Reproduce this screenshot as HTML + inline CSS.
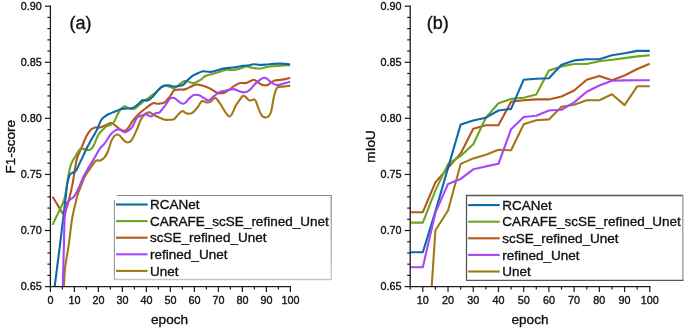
<!DOCTYPE html>
<html><head><meta charset="utf-8"><title>chart</title>
<style>
html,body{margin:0;padding:0;background:#fff;}
svg{display:block;will-change:transform;}
text{font-family:"Liberation Sans",sans-serif;fill:#111;stroke:#111;stroke-width:0.35px;stroke-linejoin:round;}
</style></head><body>
<svg width="685" height="332" viewBox="0 0 685 332">
<rect width="685" height="332" fill="#fff"/>
<linearGradient id="gr" x1="0" y1="195" x2="0" y2="280" gradientUnits="userSpaceOnUse"><stop offset="0" stop-color="#8f8f8f"/><stop offset="1" stop-color="#c6c6c6"/></linearGradient>
<clipPath id="cl"><rect x="50.4" y="0" width="245" height="286.6"/></clipPath>
<clipPath id="cr"><rect x="410.2" y="0" width="245" height="286.6"/></clipPath>
<g clip-path="url(#cl)" fill="none" stroke-linejoin="round" stroke-linecap="butt">
<path d="M62.80 300.60 C63.03 297.27 63.80 286.23 64.20 280.60 C64.60 274.97 64.47 272.63 65.20 266.80 C65.93 260.97 67.43 253.72 68.60 245.60 C69.77 237.48 70.95 225.57 72.20 218.10 C73.45 210.63 75.17 204.80 76.10 200.80 C77.03 196.80 77.08 196.30 77.80 194.10 C78.52 191.90 79.20 190.58 80.40 187.60 C81.60 184.62 83.33 179.43 85.00 176.20 C86.67 172.97 88.62 170.75 90.40 168.20 C92.18 165.65 94.05 162.18 95.70 160.90 C97.35 159.62 98.87 161.05 100.30 160.50 C101.73 159.95 103.07 159.02 104.30 157.60 C105.53 156.18 106.47 154.92 107.70 152.00 C108.93 149.08 110.37 142.97 111.70 140.10 C113.03 137.23 114.38 135.57 115.70 134.80 C117.02 134.03 118.28 134.62 119.60 135.50 C120.92 136.38 122.27 138.93 123.60 140.10 C124.93 141.27 126.27 142.50 127.60 142.50 C128.93 142.50 130.05 142.27 131.60 140.10 C133.15 137.93 135.32 133.00 136.90 129.50 C138.48 126.00 139.73 121.72 141.10 119.10 C142.47 116.48 143.67 114.92 145.10 113.80 C146.53 112.68 148.17 112.15 149.70 112.40 C151.23 112.65 152.65 114.42 154.30 115.30 C155.95 116.18 157.83 116.97 159.60 117.70 C161.37 118.43 163.13 119.37 164.90 119.70 C166.67 120.03 168.65 119.80 170.20 119.70 C171.75 119.60 172.87 119.98 174.20 119.10 C175.53 118.22 176.82 115.73 178.20 114.40 C179.58 113.07 181.10 111.27 182.50 111.10 C183.90 110.93 185.03 113.07 186.60 113.40 C188.17 113.73 190.13 114.03 191.90 113.10 C193.67 112.17 195.53 109.78 197.20 107.80 C198.87 105.82 200.35 102.08 201.90 101.20 C203.45 100.32 205.07 102.38 206.50 102.50 C207.93 102.62 209.07 102.67 210.50 101.90 C211.93 101.13 213.55 97.68 215.10 97.90 C216.65 98.12 218.13 100.88 219.80 103.20 C221.47 105.52 223.57 109.60 225.10 111.80 C226.63 114.00 227.90 115.95 229.00 116.40 C230.10 116.85 230.58 116.27 231.70 114.50 C232.82 112.73 234.43 108.13 235.70 105.80 C236.97 103.47 238.15 102.10 239.30 100.50 C240.45 98.90 241.62 96.87 242.60 96.20 C243.58 95.53 244.20 95.90 245.20 96.50 C246.20 97.10 247.60 99.13 248.60 99.80 C249.60 100.47 250.32 100.57 251.20 100.50 C252.08 100.43 253.13 99.30 253.90 99.40 C254.67 99.50 255.03 99.60 255.80 101.10 C256.57 102.60 257.50 105.97 258.50 108.40 C259.50 110.83 260.70 114.20 261.80 115.70 C262.90 117.20 264.00 117.25 265.10 117.40 C266.20 117.55 267.40 117.55 268.40 116.60 C269.40 115.65 270.22 114.83 271.10 111.70 C271.98 108.57 272.93 101.33 273.70 97.80 C274.47 94.27 275.03 92.27 275.70 90.50 C276.37 88.73 276.48 87.85 277.70 87.20 C278.92 86.55 280.90 86.87 283.00 86.60 C285.10 86.33 289.08 85.77 290.30 85.60" stroke="#a27816" stroke-width="2.1"/>
<path d="M52.60 196.70 C53.50 198.18 56.17 202.72 58.00 205.60 C59.83 208.48 62.22 213.50 63.60 214.00 C64.98 214.50 65.48 210.67 66.30 208.60 C67.12 206.53 67.47 205.68 68.50 201.60 C69.53 197.52 71.40 189.67 72.50 184.10 C73.60 178.53 74.32 172.62 75.10 168.20 C75.88 163.78 75.97 161.40 77.20 157.60 C78.43 153.80 80.95 148.98 82.50 145.40 C84.05 141.82 85.07 138.75 86.50 136.10 C87.93 133.45 89.67 130.93 91.10 129.50 C92.53 128.07 93.65 127.83 95.10 127.50 C96.55 127.17 98.13 127.83 99.80 127.50 C101.47 127.17 103.30 126.25 105.10 125.50 C106.90 124.75 109.02 123.08 110.60 123.00 C112.18 122.92 112.98 123.92 114.60 125.00 C116.22 126.08 118.58 128.53 120.30 129.50 C122.02 130.47 123.47 131.23 124.90 130.80 C126.33 130.37 127.53 128.63 128.90 126.90 C130.27 125.17 131.28 122.70 133.10 120.40 C134.92 118.10 137.58 115.20 139.80 113.10 C142.02 111.00 144.20 109.45 146.40 107.80 C148.60 106.15 151.02 103.87 153.00 103.20 C154.98 102.53 156.37 103.95 158.30 103.80 C160.23 103.65 162.62 103.57 164.60 102.30 C166.58 101.03 168.67 98.15 170.20 96.20 C171.73 94.25 172.42 91.70 173.80 90.60 C175.18 89.50 176.70 89.80 178.50 89.60 C180.30 89.40 182.70 89.82 184.60 89.40 C186.50 88.98 187.92 87.92 189.90 87.10 C191.88 86.28 194.30 84.72 196.50 84.50 C198.70 84.28 200.88 85.15 203.10 85.80 C205.32 86.45 207.58 87.30 209.80 88.40 C212.02 89.50 214.20 91.62 216.40 92.40 C218.60 93.18 221.02 93.43 223.00 93.10 C224.98 92.77 226.53 91.52 228.30 90.40 C230.07 89.28 231.62 87.62 233.60 86.40 C235.58 85.18 238.25 83.65 240.20 83.10 C242.15 82.55 243.57 83.43 245.30 83.10 C247.03 82.77 249.17 81.65 250.60 81.10 C252.03 80.55 252.80 79.70 253.90 79.80 C255.00 79.90 255.98 80.93 257.20 81.70 C258.42 82.47 259.65 83.80 261.20 84.40 C262.75 85.00 264.95 85.52 266.50 85.30 C268.05 85.08 269.17 83.92 270.50 83.10 C271.83 82.28 272.95 80.92 274.50 80.40 C276.05 79.88 278.03 80.22 279.80 80.00 C281.57 79.78 283.38 79.47 285.10 79.10 C286.82 78.73 289.27 78.02 290.10 77.80" stroke="#b5561a" stroke-width="2.1"/>
<path d="M52.60 224.80 C53.27 223.37 55.40 218.70 56.60 216.20 C57.80 213.70 58.47 212.80 59.80 209.80 C61.13 206.80 63.15 204.03 64.60 198.20 C66.05 192.37 67.42 180.47 68.50 174.80 C69.58 169.13 70.08 167.07 71.10 164.20 C72.12 161.33 73.13 160.07 74.60 157.60 C76.07 155.13 78.25 150.82 79.90 149.40 C81.55 147.98 82.95 149.00 84.50 149.10 C86.05 149.20 87.77 150.40 89.20 150.00 C90.63 149.60 91.57 149.23 93.10 146.70 C94.63 144.17 96.63 137.78 98.40 134.80 C100.17 131.82 102.33 130.22 103.70 128.80 C105.07 127.38 105.00 127.27 106.60 126.30 C108.20 125.33 111.30 125.32 113.30 123.00 C115.30 120.68 116.83 115.15 118.60 112.40 C120.37 109.65 122.13 107.20 123.90 106.50 C125.67 105.80 127.43 107.83 129.20 108.20 C130.97 108.57 132.73 109.32 134.50 108.70 C136.27 108.08 138.03 105.92 139.80 104.50 C141.57 103.08 143.33 101.53 145.10 100.20 C146.87 98.87 148.63 97.77 150.40 96.50 C152.17 95.23 153.93 94.13 155.70 92.60 C157.47 91.07 159.23 88.42 161.00 87.30 C162.77 86.18 164.53 85.87 166.30 85.90 C168.07 85.93 170.32 87.08 171.60 87.50 C172.88 87.92 172.72 88.90 174.00 88.40 C175.28 87.90 177.53 85.72 179.30 84.50 C181.07 83.28 183.05 81.55 184.60 81.10 C186.15 80.65 187.05 81.47 188.60 81.80 C190.15 82.13 191.92 83.43 193.90 83.10 C195.88 82.77 198.52 81.02 200.50 79.80 C202.48 78.58 203.82 76.78 205.80 75.80 C207.78 74.82 210.20 74.55 212.40 73.90 C214.60 73.25 216.78 72.57 219.00 71.90 C221.22 71.23 223.27 70.23 225.70 69.90 C228.13 69.57 231.18 70.12 233.60 69.90 C236.02 69.68 238.03 69.17 240.20 68.60 C242.37 68.03 244.65 66.63 246.60 66.50 C248.55 66.37 250.13 67.47 251.90 67.80 C253.67 68.13 255.43 68.43 257.20 68.50 C258.97 68.57 260.73 68.48 262.50 68.20 C264.27 67.92 265.80 67.13 267.80 66.80 C269.80 66.47 272.28 66.37 274.50 66.20 C276.72 66.03 279.12 65.97 281.10 65.80 C283.08 65.63 284.90 65.30 286.40 65.20 C287.90 65.10 289.48 65.20 290.10 65.20" stroke="#6fa51e" stroke-width="2.1"/>
<path d="M52.70 301.60 C53.02 299.17 53.40 296.33 54.60 287.00 C55.80 277.67 58.13 259.83 59.90 245.60 C61.67 231.37 63.98 211.85 65.20 201.60 C66.42 191.35 66.43 188.57 67.20 184.10 C67.97 179.63 68.92 176.68 69.80 174.80 C70.68 172.92 71.50 173.45 72.50 172.80 C73.50 172.15 74.58 172.55 75.80 170.90 C77.02 169.25 78.70 165.12 79.80 162.90 C80.90 160.68 81.28 159.97 82.40 157.60 C83.52 155.23 84.93 151.83 86.50 148.70 C88.07 145.57 90.03 142.00 91.80 138.80 C93.57 135.60 95.55 132.60 97.10 129.50 C98.65 126.40 99.77 122.40 101.10 120.20 C102.43 118.00 103.73 117.37 105.10 116.30 C106.47 115.23 107.72 114.55 109.30 113.80 C110.88 113.05 112.62 112.58 114.60 111.80 C116.58 111.02 119.22 109.65 121.20 109.10 C123.18 108.55 124.73 108.65 126.50 108.50 C128.27 108.35 130.03 108.77 131.80 108.20 C133.57 107.63 135.33 106.43 137.10 105.10 C138.87 103.77 140.63 100.97 142.40 100.20 C144.17 99.43 145.93 101.12 147.70 100.50 C149.47 99.88 151.23 98.27 153.00 96.50 C154.77 94.73 156.53 91.70 158.30 89.90 C160.07 88.10 161.83 86.47 163.60 85.70 C165.37 84.93 167.13 85.15 168.90 85.30 C170.67 85.45 172.43 86.50 174.20 86.60 C175.97 86.70 177.95 86.23 179.50 85.90 C181.05 85.57 182.22 85.50 183.50 84.60 C184.78 83.70 185.70 81.97 187.20 80.50 C188.70 79.03 190.73 77.02 192.50 75.80 C194.27 74.58 196.03 73.97 197.80 73.20 C199.57 72.43 201.10 71.42 203.10 71.20 C205.10 70.98 207.58 72.02 209.80 71.90 C212.02 71.78 214.20 71.05 216.40 70.50 C218.60 69.95 220.80 69.03 223.00 68.60 C225.20 68.17 227.38 68.17 229.60 67.90 C231.82 67.63 234.08 67.33 236.30 67.00 C238.52 66.67 240.70 66.20 242.90 65.90 C245.10 65.60 247.77 65.47 249.50 65.20 C251.23 64.93 251.57 64.35 253.30 64.30 C255.03 64.25 257.70 64.87 259.90 64.90 C262.10 64.93 264.30 64.67 266.50 64.50 C268.70 64.33 270.88 64.05 273.10 63.90 C275.32 63.75 277.80 63.60 279.80 63.60 C281.80 63.60 283.38 63.75 285.10 63.90 C286.82 64.05 289.27 64.40 290.10 64.50" stroke="#0c6aab" stroke-width="2.1"/>
<path d="M62.60 300.60 C62.63 298.33 62.58 296.17 62.80 287.00 C63.02 277.83 63.62 256.52 63.90 245.60 C64.18 234.68 64.27 227.00 64.50 221.50 C64.73 216.00 64.95 215.52 65.30 212.60 C65.65 209.68 65.77 206.18 66.60 204.00 C67.43 201.82 69.07 200.73 70.30 199.50 C71.53 198.27 72.63 198.43 74.00 196.60 C75.37 194.77 76.88 191.90 78.50 188.50 C80.12 185.10 81.95 179.80 83.70 176.20 C85.45 172.60 87.23 169.88 89.00 166.90 C90.77 163.92 92.50 161.33 94.30 158.30 C96.10 155.27 98.00 151.28 99.80 148.70 C101.60 146.12 103.33 145.12 105.10 142.80 C106.87 140.48 108.63 136.90 110.40 134.80 C112.17 132.70 114.17 131.08 115.70 130.20 C117.23 129.32 118.07 129.17 119.60 129.50 C121.13 129.83 123.35 132.08 124.90 132.20 C126.45 132.32 127.63 131.13 128.90 130.20 C130.17 129.27 131.13 128.70 132.50 126.60 C133.87 124.50 135.45 119.48 137.10 117.60 C138.75 115.72 140.85 115.83 142.40 115.30 C143.95 114.77 144.97 114.22 146.40 114.40 C147.83 114.58 149.45 116.62 151.00 116.40 C152.55 116.18 154.27 113.77 155.70 113.10 C157.13 112.43 158.07 113.62 159.60 112.40 C161.13 111.18 163.13 108.12 164.90 105.80 C166.67 103.48 168.65 99.78 170.20 98.50 C171.75 97.22 172.90 97.72 174.20 98.10 C175.50 98.48 176.93 100.00 178.00 100.80 C179.07 101.60 179.72 102.40 180.60 102.90 C181.48 103.40 182.40 103.92 183.30 103.80 C184.20 103.68 185.12 103.00 186.00 102.20 C186.88 101.40 187.28 100.18 188.60 99.00 C189.92 97.82 192.13 95.72 193.90 95.10 C195.67 94.48 197.43 94.75 199.20 95.30 C200.97 95.85 202.97 97.55 204.50 98.40 C206.03 99.25 206.87 100.73 208.40 100.40 C209.93 100.07 211.70 97.85 213.70 96.40 C215.70 94.95 218.18 92.70 220.40 91.70 C222.62 90.70 224.80 90.83 227.00 90.40 C229.20 89.97 231.62 88.98 233.60 89.10 C235.58 89.22 237.13 90.55 238.90 91.10 C240.67 91.65 242.47 92.52 244.20 92.40 C245.93 92.28 247.57 91.73 249.30 90.40 C251.03 89.07 252.83 86.17 254.60 84.40 C256.37 82.63 258.35 80.90 259.90 79.80 C261.45 78.70 262.80 78.03 263.90 77.80 C265.00 77.57 265.40 77.75 266.50 78.40 C267.60 79.05 269.17 80.70 270.50 81.70 C271.83 82.70 273.18 83.83 274.50 84.40 C275.82 84.97 276.87 85.25 278.40 85.10 C279.93 84.95 281.75 84.07 283.70 83.50 C285.65 82.93 289.03 82.00 290.10 81.70" stroke="#a746f5" stroke-width="2.1"/>
</g>
<line x1="50.4" y1="5.6000000000000005" x2="50.4" y2="287.20000000000005" stroke="#1c1c1c" stroke-width="1.3"/>
<line x1="49.8" y1="286.6" x2="291.0" y2="286.6" stroke="#1c1c1c" stroke-width="1.3"/>
<line x1="44.9" y1="6.20" x2="50.4" y2="6.20" stroke="#1c1c1c" stroke-width="1.2"/>
<text x="41.8" y="9.90" text-anchor="end" font-size="10.8">0.90</text>
<line x1="47.4" y1="17.42" x2="50.4" y2="17.42" stroke="#1c1c1c" stroke-width="1.2"/>
<line x1="47.4" y1="28.63" x2="50.4" y2="28.63" stroke="#1c1c1c" stroke-width="1.2"/>
<line x1="47.4" y1="39.85" x2="50.4" y2="39.85" stroke="#1c1c1c" stroke-width="1.2"/>
<line x1="47.4" y1="51.06" x2="50.4" y2="51.06" stroke="#1c1c1c" stroke-width="1.2"/>
<line x1="44.9" y1="62.28" x2="50.4" y2="62.28" stroke="#1c1c1c" stroke-width="1.2"/>
<text x="41.8" y="65.98" text-anchor="end" font-size="10.8">0.85</text>
<line x1="47.4" y1="73.50" x2="50.4" y2="73.50" stroke="#1c1c1c" stroke-width="1.2"/>
<line x1="47.4" y1="84.71" x2="50.4" y2="84.71" stroke="#1c1c1c" stroke-width="1.2"/>
<line x1="47.4" y1="95.93" x2="50.4" y2="95.93" stroke="#1c1c1c" stroke-width="1.2"/>
<line x1="47.4" y1="107.14" x2="50.4" y2="107.14" stroke="#1c1c1c" stroke-width="1.2"/>
<line x1="44.9" y1="118.36" x2="50.4" y2="118.36" stroke="#1c1c1c" stroke-width="1.2"/>
<text x="41.8" y="122.06" text-anchor="end" font-size="10.8">0.80</text>
<line x1="47.4" y1="129.58" x2="50.4" y2="129.58" stroke="#1c1c1c" stroke-width="1.2"/>
<line x1="47.4" y1="140.79" x2="50.4" y2="140.79" stroke="#1c1c1c" stroke-width="1.2"/>
<line x1="47.4" y1="152.01" x2="50.4" y2="152.01" stroke="#1c1c1c" stroke-width="1.2"/>
<line x1="47.4" y1="163.22" x2="50.4" y2="163.22" stroke="#1c1c1c" stroke-width="1.2"/>
<line x1="44.9" y1="174.44" x2="50.4" y2="174.44" stroke="#1c1c1c" stroke-width="1.2"/>
<text x="41.8" y="178.14" text-anchor="end" font-size="10.8">0.75</text>
<line x1="47.4" y1="185.66" x2="50.4" y2="185.66" stroke="#1c1c1c" stroke-width="1.2"/>
<line x1="47.4" y1="196.87" x2="50.4" y2="196.87" stroke="#1c1c1c" stroke-width="1.2"/>
<line x1="47.4" y1="208.09" x2="50.4" y2="208.09" stroke="#1c1c1c" stroke-width="1.2"/>
<line x1="47.4" y1="219.30" x2="50.4" y2="219.30" stroke="#1c1c1c" stroke-width="1.2"/>
<line x1="44.9" y1="230.52" x2="50.4" y2="230.52" stroke="#1c1c1c" stroke-width="1.2"/>
<text x="41.8" y="234.22" text-anchor="end" font-size="10.8">0.70</text>
<line x1="47.4" y1="241.74" x2="50.4" y2="241.74" stroke="#1c1c1c" stroke-width="1.2"/>
<line x1="47.4" y1="252.95" x2="50.4" y2="252.95" stroke="#1c1c1c" stroke-width="1.2"/>
<line x1="47.4" y1="264.17" x2="50.4" y2="264.17" stroke="#1c1c1c" stroke-width="1.2"/>
<line x1="47.4" y1="275.38" x2="50.4" y2="275.38" stroke="#1c1c1c" stroke-width="1.2"/>
<line x1="44.9" y1="286.60" x2="50.4" y2="286.60" stroke="#1c1c1c" stroke-width="1.2"/>
<text x="41.8" y="290.30" text-anchor="end" font-size="10.8">0.65</text>
<line x1="50.40" y1="286.6" x2="50.40" y2="292.1" stroke="#1c1c1c" stroke-width="1.2"/>
<line x1="74.40" y1="286.6" x2="74.40" y2="292.1" stroke="#1c1c1c" stroke-width="1.2"/>
<line x1="98.40" y1="286.6" x2="98.40" y2="292.1" stroke="#1c1c1c" stroke-width="1.2"/>
<line x1="122.40" y1="286.6" x2="122.40" y2="292.1" stroke="#1c1c1c" stroke-width="1.2"/>
<line x1="146.40" y1="286.6" x2="146.40" y2="292.1" stroke="#1c1c1c" stroke-width="1.2"/>
<line x1="170.40" y1="286.6" x2="170.40" y2="292.1" stroke="#1c1c1c" stroke-width="1.2"/>
<line x1="194.40" y1="286.6" x2="194.40" y2="292.1" stroke="#1c1c1c" stroke-width="1.2"/>
<line x1="218.40" y1="286.6" x2="218.40" y2="292.1" stroke="#1c1c1c" stroke-width="1.2"/>
<line x1="242.40" y1="286.6" x2="242.40" y2="292.1" stroke="#1c1c1c" stroke-width="1.2"/>
<line x1="266.40" y1="286.6" x2="266.40" y2="292.1" stroke="#1c1c1c" stroke-width="1.2"/>
<line x1="290.40" y1="286.6" x2="290.40" y2="292.1" stroke="#1c1c1c" stroke-width="1.2"/>
<line x1="62.40" y1="286.6" x2="62.40" y2="289.6" stroke="#1c1c1c" stroke-width="1.2"/>
<line x1="86.40" y1="286.6" x2="86.40" y2="289.6" stroke="#1c1c1c" stroke-width="1.2"/>
<line x1="110.40" y1="286.6" x2="110.40" y2="289.6" stroke="#1c1c1c" stroke-width="1.2"/>
<line x1="134.40" y1="286.6" x2="134.40" y2="289.6" stroke="#1c1c1c" stroke-width="1.2"/>
<line x1="158.40" y1="286.6" x2="158.40" y2="289.6" stroke="#1c1c1c" stroke-width="1.2"/>
<line x1="182.40" y1="286.6" x2="182.40" y2="289.6" stroke="#1c1c1c" stroke-width="1.2"/>
<line x1="206.40" y1="286.6" x2="206.40" y2="289.6" stroke="#1c1c1c" stroke-width="1.2"/>
<line x1="230.40" y1="286.6" x2="230.40" y2="289.6" stroke="#1c1c1c" stroke-width="1.2"/>
<line x1="254.40" y1="286.6" x2="254.40" y2="289.6" stroke="#1c1c1c" stroke-width="1.2"/>
<line x1="278.40" y1="286.6" x2="278.40" y2="289.6" stroke="#1c1c1c" stroke-width="1.2"/>
<text x="50.40" y="303.5" text-anchor="middle" font-size="10.8">0</text>
<text x="74.40" y="303.5" text-anchor="middle" font-size="10.8">10</text>
<text x="98.40" y="303.5" text-anchor="middle" font-size="10.8">20</text>
<text x="122.40" y="303.5" text-anchor="middle" font-size="10.8">30</text>
<text x="146.40" y="303.5" text-anchor="middle" font-size="10.8">40</text>
<text x="170.40" y="303.5" text-anchor="middle" font-size="10.8">50</text>
<text x="194.40" y="303.5" text-anchor="middle" font-size="10.8">60</text>
<text x="218.40" y="303.5" text-anchor="middle" font-size="10.8">70</text>
<text x="242.40" y="303.5" text-anchor="middle" font-size="10.8">80</text>
<text x="266.40" y="303.5" text-anchor="middle" font-size="10.8">90</text>
<text x="290.40" y="303.5" text-anchor="middle" font-size="10.8">100</text>
<rect x="114.4" y="195.5" width="216.79999999999998" height="84.0" fill="#fff"/>
<line x1="117.0" y1="195.5" x2="331.7" y2="195.5" stroke="#8a8a8a" stroke-width="1.1"/>
<line x1="114.4" y1="200.1" x2="114.4" y2="280.0" stroke="#999" stroke-width="1.1"/>
<line x1="331.2" y1="195.5" x2="331.2" y2="280.1" stroke="url(#gr)" stroke-width="1.3"/>
<line x1="114.4" y1="279.5" x2="331.8" y2="279.5" stroke="#c6c6c6" stroke-width="1.3"/>
<line x1="116.0" y1="204.50" x2="147.60000000000002" y2="204.50" stroke="#0c6aab" stroke-width="2.1"/>
<text x="150.10000000000002" y="209.10" font-size="13.5">RCANet</text>
<line x1="116.0" y1="221.10" x2="147.60000000000002" y2="221.10" stroke="#6fa51e" stroke-width="2.1"/>
<text x="150.10000000000002" y="225.70" font-size="13.5">CARAFE_scSE_refined_Unet</text>
<line x1="116.0" y1="237.70" x2="147.60000000000002" y2="237.70" stroke="#b5561a" stroke-width="2.1"/>
<text x="150.10000000000002" y="242.30" font-size="13.5">scSE_refined_Unet</text>
<line x1="116.0" y1="254.30" x2="147.60000000000002" y2="254.30" stroke="#a746f5" stroke-width="2.1"/>
<text x="150.10000000000002" y="258.90" font-size="13.5">refined_Unet</text>
<line x1="116.0" y1="270.90" x2="147.60000000000002" y2="270.90" stroke="#a27816" stroke-width="2.1"/>
<text x="150.10000000000002" y="275.50" font-size="13.5">Unet</text>
<text x="69.6" y="29.4" font-size="18">(a)</text>
<text transform="translate(15.3,146.7) rotate(-90)" text-anchor="middle" font-size="13.6">F1-score</text>
<text x="169.6" y="323.6" text-anchor="middle" font-size="13.6">epoch</text>
<g clip-path="url(#cr)" fill="none" stroke-linejoin="round" stroke-linecap="butt">
<path d="M410.20 420.40 L422.81 420.40 L435.42 230.30 L448.03 210.50 L460.64 163.90 L473.25 158.40 L485.86 154.70 L498.47 149.80 L511.08 150.30 L523.69 124.30 L536.30 120.20 L548.91 119.40 L561.52 106.70 L574.13 104.80 L586.74 100.20 L599.35 100.20 L611.96 94.20 L624.57 105.10 L637.18 86.30 L649.79 86.30" stroke="#a27816" stroke-width="2.1"/>
<path d="M410.20 212.20 L422.81 212.20 L435.42 182.40 L448.03 167.90 L460.64 153.50 L473.25 128.80 L485.86 125.20 L498.47 125.20 L511.08 101.70 L523.69 100.20 L536.30 99.40 L548.91 99.40 L561.52 96.50 L574.13 90.50 L586.74 79.70 L599.35 75.90 L611.96 80.20 L624.57 75.50 L637.18 69.00 L649.79 63.70" stroke="#b5561a" stroke-width="2.1"/>
<path d="M410.20 222.60 L422.81 222.60 L435.42 190.40 L448.03 164.10 L460.64 156.00 L473.25 144.20 L485.86 117.70 L498.47 103.30 L511.08 98.90 L523.69 97.70 L536.30 94.60 L548.91 70.50 L561.52 66.40 L574.13 64.00 L586.74 64.00 L599.35 61.20 L611.96 59.80 L624.57 58.10 L637.18 56.40 L649.79 55.20" stroke="#6fa51e" stroke-width="2.1"/>
<path d="M410.20 252.20 L422.81 252.20 L435.42 211.40 L448.03 167.90 L460.64 124.50 L473.25 120.60 L485.86 117.70 L498.47 110.50 L511.08 108.90 L523.69 79.70 L536.30 78.70 L548.91 78.20 L561.52 64.70 L574.13 60.40 L586.74 59.30 L599.35 59.30 L611.96 55.20 L624.57 53.30 L637.18 50.90 L649.79 50.90" stroke="#0c6aab" stroke-width="2.1"/>
<path d="M410.20 267.20 L422.81 267.20 L435.42 212.70 L448.03 183.90 L460.64 178.90 L473.25 169.30 L485.86 166.40 L498.47 163.80 L511.08 129.20 L523.69 117.00 L536.30 115.80 L548.91 110.50 L561.52 109.80 L574.13 102.40 L586.74 91.70 L599.35 85.50 L611.96 80.70 L624.57 80.40 L637.18 80.30 L649.79 80.30" stroke="#a746f5" stroke-width="2.1"/>
</g>
<line x1="410.2" y1="5.6000000000000005" x2="410.2" y2="287.20000000000005" stroke="#1c1c1c" stroke-width="1.3"/>
<line x1="409.59999999999997" y1="286.6" x2="650.4" y2="286.6" stroke="#1c1c1c" stroke-width="1.3"/>
<line x1="404.7" y1="6.20" x2="410.2" y2="6.20" stroke="#1c1c1c" stroke-width="1.2"/>
<text x="401.59999999999997" y="9.90" text-anchor="end" font-size="10.8">0.90</text>
<line x1="407.2" y1="17.42" x2="410.2" y2="17.42" stroke="#1c1c1c" stroke-width="1.2"/>
<line x1="407.2" y1="28.63" x2="410.2" y2="28.63" stroke="#1c1c1c" stroke-width="1.2"/>
<line x1="407.2" y1="39.85" x2="410.2" y2="39.85" stroke="#1c1c1c" stroke-width="1.2"/>
<line x1="407.2" y1="51.06" x2="410.2" y2="51.06" stroke="#1c1c1c" stroke-width="1.2"/>
<line x1="404.7" y1="62.28" x2="410.2" y2="62.28" stroke="#1c1c1c" stroke-width="1.2"/>
<text x="401.59999999999997" y="65.98" text-anchor="end" font-size="10.8">0.85</text>
<line x1="407.2" y1="73.50" x2="410.2" y2="73.50" stroke="#1c1c1c" stroke-width="1.2"/>
<line x1="407.2" y1="84.71" x2="410.2" y2="84.71" stroke="#1c1c1c" stroke-width="1.2"/>
<line x1="407.2" y1="95.93" x2="410.2" y2="95.93" stroke="#1c1c1c" stroke-width="1.2"/>
<line x1="407.2" y1="107.14" x2="410.2" y2="107.14" stroke="#1c1c1c" stroke-width="1.2"/>
<line x1="404.7" y1="118.36" x2="410.2" y2="118.36" stroke="#1c1c1c" stroke-width="1.2"/>
<text x="401.59999999999997" y="122.06" text-anchor="end" font-size="10.8">0.80</text>
<line x1="407.2" y1="129.58" x2="410.2" y2="129.58" stroke="#1c1c1c" stroke-width="1.2"/>
<line x1="407.2" y1="140.79" x2="410.2" y2="140.79" stroke="#1c1c1c" stroke-width="1.2"/>
<line x1="407.2" y1="152.01" x2="410.2" y2="152.01" stroke="#1c1c1c" stroke-width="1.2"/>
<line x1="407.2" y1="163.22" x2="410.2" y2="163.22" stroke="#1c1c1c" stroke-width="1.2"/>
<line x1="404.7" y1="174.44" x2="410.2" y2="174.44" stroke="#1c1c1c" stroke-width="1.2"/>
<text x="401.59999999999997" y="178.14" text-anchor="end" font-size="10.8">0.75</text>
<line x1="407.2" y1="185.66" x2="410.2" y2="185.66" stroke="#1c1c1c" stroke-width="1.2"/>
<line x1="407.2" y1="196.87" x2="410.2" y2="196.87" stroke="#1c1c1c" stroke-width="1.2"/>
<line x1="407.2" y1="208.09" x2="410.2" y2="208.09" stroke="#1c1c1c" stroke-width="1.2"/>
<line x1="407.2" y1="219.30" x2="410.2" y2="219.30" stroke="#1c1c1c" stroke-width="1.2"/>
<line x1="404.7" y1="230.52" x2="410.2" y2="230.52" stroke="#1c1c1c" stroke-width="1.2"/>
<text x="401.59999999999997" y="234.22" text-anchor="end" font-size="10.8">0.70</text>
<line x1="407.2" y1="241.74" x2="410.2" y2="241.74" stroke="#1c1c1c" stroke-width="1.2"/>
<line x1="407.2" y1="252.95" x2="410.2" y2="252.95" stroke="#1c1c1c" stroke-width="1.2"/>
<line x1="407.2" y1="264.17" x2="410.2" y2="264.17" stroke="#1c1c1c" stroke-width="1.2"/>
<line x1="407.2" y1="275.38" x2="410.2" y2="275.38" stroke="#1c1c1c" stroke-width="1.2"/>
<line x1="404.7" y1="286.60" x2="410.2" y2="286.60" stroke="#1c1c1c" stroke-width="1.2"/>
<text x="401.59999999999997" y="290.30" text-anchor="end" font-size="10.8">0.65</text>
<line x1="422.81" y1="286.6" x2="422.81" y2="292.1" stroke="#1c1c1c" stroke-width="1.2"/>
<line x1="448.03" y1="286.6" x2="448.03" y2="292.1" stroke="#1c1c1c" stroke-width="1.2"/>
<line x1="473.25" y1="286.6" x2="473.25" y2="292.1" stroke="#1c1c1c" stroke-width="1.2"/>
<line x1="498.47" y1="286.6" x2="498.47" y2="292.1" stroke="#1c1c1c" stroke-width="1.2"/>
<line x1="523.69" y1="286.6" x2="523.69" y2="292.1" stroke="#1c1c1c" stroke-width="1.2"/>
<line x1="548.91" y1="286.6" x2="548.91" y2="292.1" stroke="#1c1c1c" stroke-width="1.2"/>
<line x1="574.13" y1="286.6" x2="574.13" y2="292.1" stroke="#1c1c1c" stroke-width="1.2"/>
<line x1="599.35" y1="286.6" x2="599.35" y2="292.1" stroke="#1c1c1c" stroke-width="1.2"/>
<line x1="624.57" y1="286.6" x2="624.57" y2="292.1" stroke="#1c1c1c" stroke-width="1.2"/>
<line x1="649.79" y1="286.6" x2="649.79" y2="292.1" stroke="#1c1c1c" stroke-width="1.2"/>
<line x1="410.20" y1="286.6" x2="410.20" y2="289.6" stroke="#1c1c1c" stroke-width="1.2"/>
<line x1="435.42" y1="286.6" x2="435.42" y2="289.6" stroke="#1c1c1c" stroke-width="1.2"/>
<line x1="460.64" y1="286.6" x2="460.64" y2="289.6" stroke="#1c1c1c" stroke-width="1.2"/>
<line x1="485.86" y1="286.6" x2="485.86" y2="289.6" stroke="#1c1c1c" stroke-width="1.2"/>
<line x1="511.08" y1="286.6" x2="511.08" y2="289.6" stroke="#1c1c1c" stroke-width="1.2"/>
<line x1="536.30" y1="286.6" x2="536.30" y2="289.6" stroke="#1c1c1c" stroke-width="1.2"/>
<line x1="561.52" y1="286.6" x2="561.52" y2="289.6" stroke="#1c1c1c" stroke-width="1.2"/>
<line x1="586.74" y1="286.6" x2="586.74" y2="289.6" stroke="#1c1c1c" stroke-width="1.2"/>
<line x1="611.96" y1="286.6" x2="611.96" y2="289.6" stroke="#1c1c1c" stroke-width="1.2"/>
<line x1="637.18" y1="286.6" x2="637.18" y2="289.6" stroke="#1c1c1c" stroke-width="1.2"/>
<text x="422.81" y="303.5" text-anchor="middle" font-size="10.8">10</text>
<text x="448.03" y="303.5" text-anchor="middle" font-size="10.8">20</text>
<text x="473.25" y="303.5" text-anchor="middle" font-size="10.8">30</text>
<text x="498.47" y="303.5" text-anchor="middle" font-size="10.8">40</text>
<text x="523.69" y="303.5" text-anchor="middle" font-size="10.8">50</text>
<text x="548.91" y="303.5" text-anchor="middle" font-size="10.8">60</text>
<text x="574.13" y="303.5" text-anchor="middle" font-size="10.8">70</text>
<text x="599.35" y="303.5" text-anchor="middle" font-size="10.8">80</text>
<text x="624.57" y="303.5" text-anchor="middle" font-size="10.8">90</text>
<text x="649.79" y="303.5" text-anchor="middle" font-size="10.8">100</text>
<rect x="466.5" y="195.5" width="216.29999999999995" height="84.80000000000001" fill="#fff"/>
<line x1="682.8" y1="195.5" x2="682.8" y2="280.90000000000003" stroke="#9a9a9a" stroke-width="1.3"/>
<path d="M682.8 195.5 L466.5 195.5 L466.5 280.3 L683.4 280.3" fill="none" stroke="#555" stroke-width="1.3"/>
<line x1="468.1" y1="205.10" x2="499.7" y2="205.10" stroke="#0c6aab" stroke-width="2.1"/>
<text x="502.2" y="209.70" font-size="13.5">RCANet</text>
<line x1="468.1" y1="221.70" x2="499.7" y2="221.70" stroke="#6fa51e" stroke-width="2.1"/>
<text x="502.2" y="226.30" font-size="13.5">CARAFE_scSE_refined_Unet</text>
<line x1="468.1" y1="238.30" x2="499.7" y2="238.30" stroke="#b5561a" stroke-width="2.1"/>
<text x="502.2" y="242.90" font-size="13.5">scSE_refined_Unet</text>
<line x1="468.1" y1="254.90" x2="499.7" y2="254.90" stroke="#a746f5" stroke-width="2.1"/>
<text x="502.2" y="259.50" font-size="13.5">refined_Unet</text>
<line x1="468.1" y1="271.50" x2="499.7" y2="271.50" stroke="#a27816" stroke-width="2.1"/>
<text x="502.2" y="276.10" font-size="13.5">Unet</text>
<text x="426.8" y="29.1" font-size="18">(b)</text>
<text transform="translate(375.1,146.4) rotate(-90)" text-anchor="middle" font-size="13.6">mIoU</text>
<text x="530" y="323.6" text-anchor="middle" font-size="13.6">epoch</text>
</svg>
</body></html>
